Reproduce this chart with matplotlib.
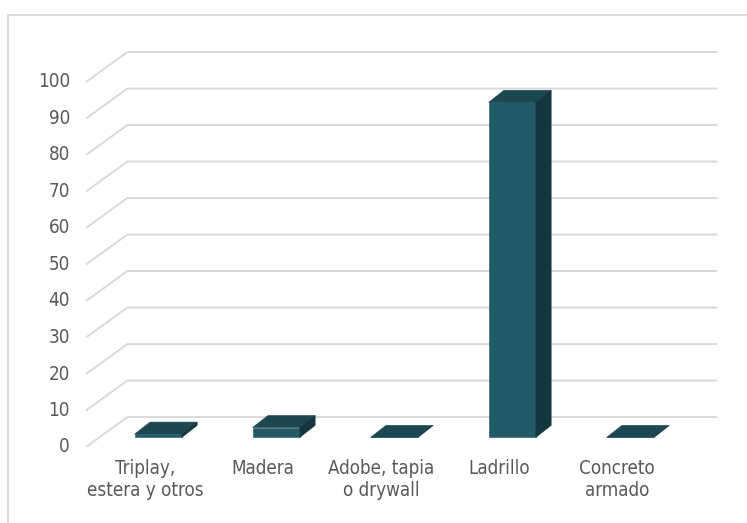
import matplotlib
matplotlib.use('Agg')
from matplotlib import pyplot as plt
from matplotlib.patches import Polygon, Rectangle

plt.rcParams['font.family'] = ['DejaVu Sans']
plt.rcParams['font.stretch'] = 'condensed'

categorias = ['Triplay,\nestera y otros', 'Madera', 'Adobe, tapia\no drywall',
              'Ladrillo', 'Concreto\narmado']
valores = [0.9, 2.7, 0.0, 91.8, 0.0]
ticks = [0, 10, 20, 30, 40, 50, 60, 70, 80, 90, 100]

# colores
c_frente = '#225a68'
c_arriba = '#1c4651'
c_lado = '#16363f'
c_grid = '#d9d9d9'
c_texto = '#595959'

# perspectiva (en unidades de datos)
fondo_dx, fondo_dy = 0.35, 8.2     # pared del fondo
prof = 0.32                        # posicion de la barra en la profundidad
barra_dx, barra_dy = 0.13, 3.3     # profundidad propia de la barra
ancho = 0.40

fig = plt.figure(figsize=(7.47, 5.23), dpi=100)
ax = fig.add_axes([0, 0, 1, 1])
ax.set_xlim(-145 / 118, (747 - 145) / 118)
ax.set_ylim((447 - 523) / 3.65, 447 / 3.65)
ax.axis('off')

# borde del grafico
fig.patches.append(Rectangle((8 / 747, -0.1), 1.2, 508 / 523 + 0.1,
                             transform=fig.transFigure, fill=False,
                             edgecolor=c_grid, linewidth=1.3))

# lineas de la cuadricula
x0, x1 = -0.5, len(categorias) - 0.5
for t in ticks:
    ax.plot([x0, x0 + fondo_dx, x1 + fondo_dx], [t, t + fondo_dy, t + fondo_dy],
            color=c_grid, linewidth=1.4, zorder=1, solid_capstyle='butt')
    ax.text(x0 - 0.135, t, str(t), ha='right', va='center',
            fontsize=13.5, color=c_texto)

# barras
for i, v in enumerate(valores):
    xc = i + prof * fondo_dx
    base = prof * fondo_dy
    xl, xr = xc - ancho / 2, xc + ancho / 2
    top = base + v
    ax.bar(xc, v, width=ancho, bottom=base, color=c_frente,
           edgecolor=c_frente, linewidth=0.4, zorder=3)
    ax.add_patch(Polygon([(xl, top), (xr, top), (xr + barra_dx, top + barra_dy),
                          (xl + barra_dx, top + barra_dy)],
                         closed=True, facecolor=c_arriba, edgecolor=c_arriba,
                         linewidth=0.4, zorder=3))
    ax.add_patch(Polygon([(xr, base), (xr + barra_dx, base + barra_dy),
                          (xr + barra_dx, top + barra_dy), (xr, top)],
                         closed=True, facecolor=c_lado, edgecolor=c_lado,
                         linewidth=0.4, zorder=3))
    ax.text(i, -3.4, categorias[i], ha='center', va='top', fontsize=13.5,
            color=c_texto, linespacing=1.2, multialignment='center')

fig.savefig('out.png', dpi=100)
